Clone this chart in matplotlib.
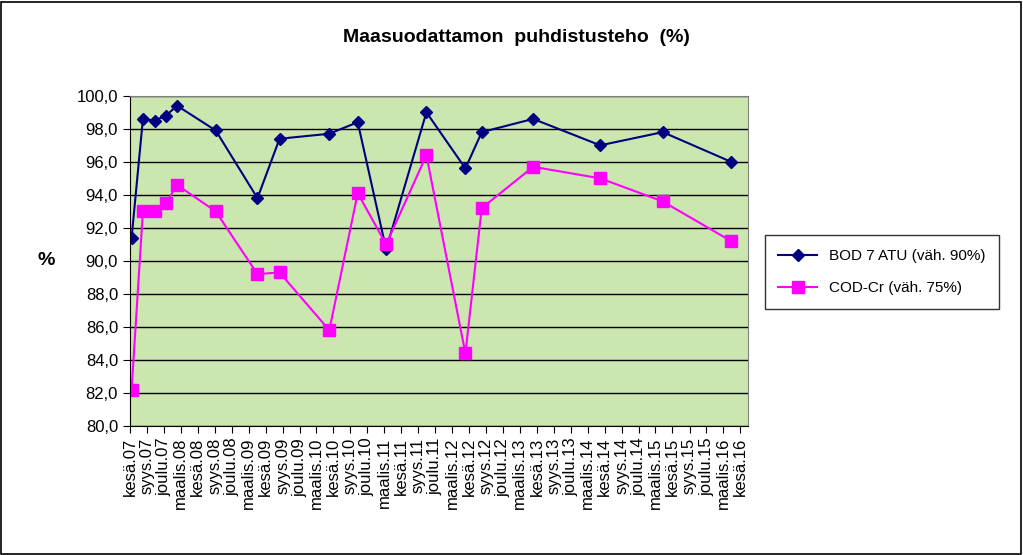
import datetime as dt

import matplotlib.pyplot as plt
from matplotlib.patches import Rectangle

plt.rcParams['font.family'] = 'Liberation Sans'

# sample dates
dates = ['2007-06-10', '2007-08-10', '2007-10-12', '2007-12-12', '2008-02-10',
         '2008-09-05', '2009-04-18', '2009-08-15', '2010-05-10', '2010-10-10',
         '2011-03-12', '2011-10-15', '2012-05-12', '2012-08-08', '2013-05-12',
         '2014-05-08', '2015-04-10', '2016-04-12']
bod = [91.4, 98.6, 98.5, 98.8, 99.4, 97.9, 93.8, 97.4, 97.7, 98.4,
       90.7, 99.0, 95.6, 97.8, 98.6, 97.0, 97.8, 96.0]
cod = [82.2, 93.0, 93.0, 93.5, 94.6, 93.0, 89.2, 89.3, 85.8, 94.1,
       91.0, 96.4, 84.4, 93.2, 95.7, 95.0, 93.6, 91.2]
month_names = {3: 'maalis', 6: 'kesä', 9: 'syys', 12: 'joulu'}

x = [dt.datetime.strptime(d, '%Y-%m-%d') for d in dates]
ticks = []
y, m = 2007, 6
while (y, m) <= (2016, 6):
    ticks.append(dt.datetime(y, m, 1))
    m += 3
    if m > 12:
        m -= 12
        y += 1
tick_labels = ['{0}.{1:02d}'.format(month_names[t.month], t.year % 100) for t in ticks]

fig = plt.figure(figsize=(10.23, 5.55), dpi=100)
fig.add_artist(Rectangle((0.001, 0.002), 0.997, 0.995, transform=fig.transFigure,
                         fill=False, edgecolor='black', linewidth=1.2))
ax = fig.add_axes([0.127, 0.2324, 0.604, 0.595])
ax.set_facecolor('#cce6b0')
ax.plot(x, bod, color='#000080', marker='D', markersize=6, linewidth=1.5,
        label='BOD 7 ATU (väh. 90%)')
ax.plot(x, cod, color='#ff00ff', marker='s', markersize=8, linewidth=1.5,
        label='COD-Cr (väh. 75%)')
ax.set_ylim(80, 100)
ax.set_yticks([80 + 2 * i for i in range(11)])
ax.set_yticklabels(['{0:.1f}'.format(80 + 2 * i).replace('.', ',') for i in range(11)])
ax.set_xlim(ticks[0], ticks[-1] + dt.timedelta(days=40))
ax.set_xticks(ticks)
ax.set_xticklabels(tick_labels, rotation=90)
ax.tick_params(labelsize=12, direction='out', length=5)
ax.grid(axis='y', color='black', linewidth=1)
ax.set_axisbelow(True)
for s in ['top', 'right']:
    ax.spines[s].set_color('#808080')
ax.set_ylabel('%', rotation=0, fontsize=14, fontweight='bold', labelpad=22,
              va='center')
fig.text(0.505, 0.925, 'Maasuodattamon  puhdistusteho  (%)', ha='center',
         fontsize=14, fontweight='bold')
fig.legend(loc='upper left', bbox_to_anchor=(0.74, 0.59), fontsize=11,
           frameon=True, fancybox=False, edgecolor='black', borderpad=0.9,
           labelspacing=1.2, handlelength=2.5)
fig.savefig('out.png', dpi=100)
